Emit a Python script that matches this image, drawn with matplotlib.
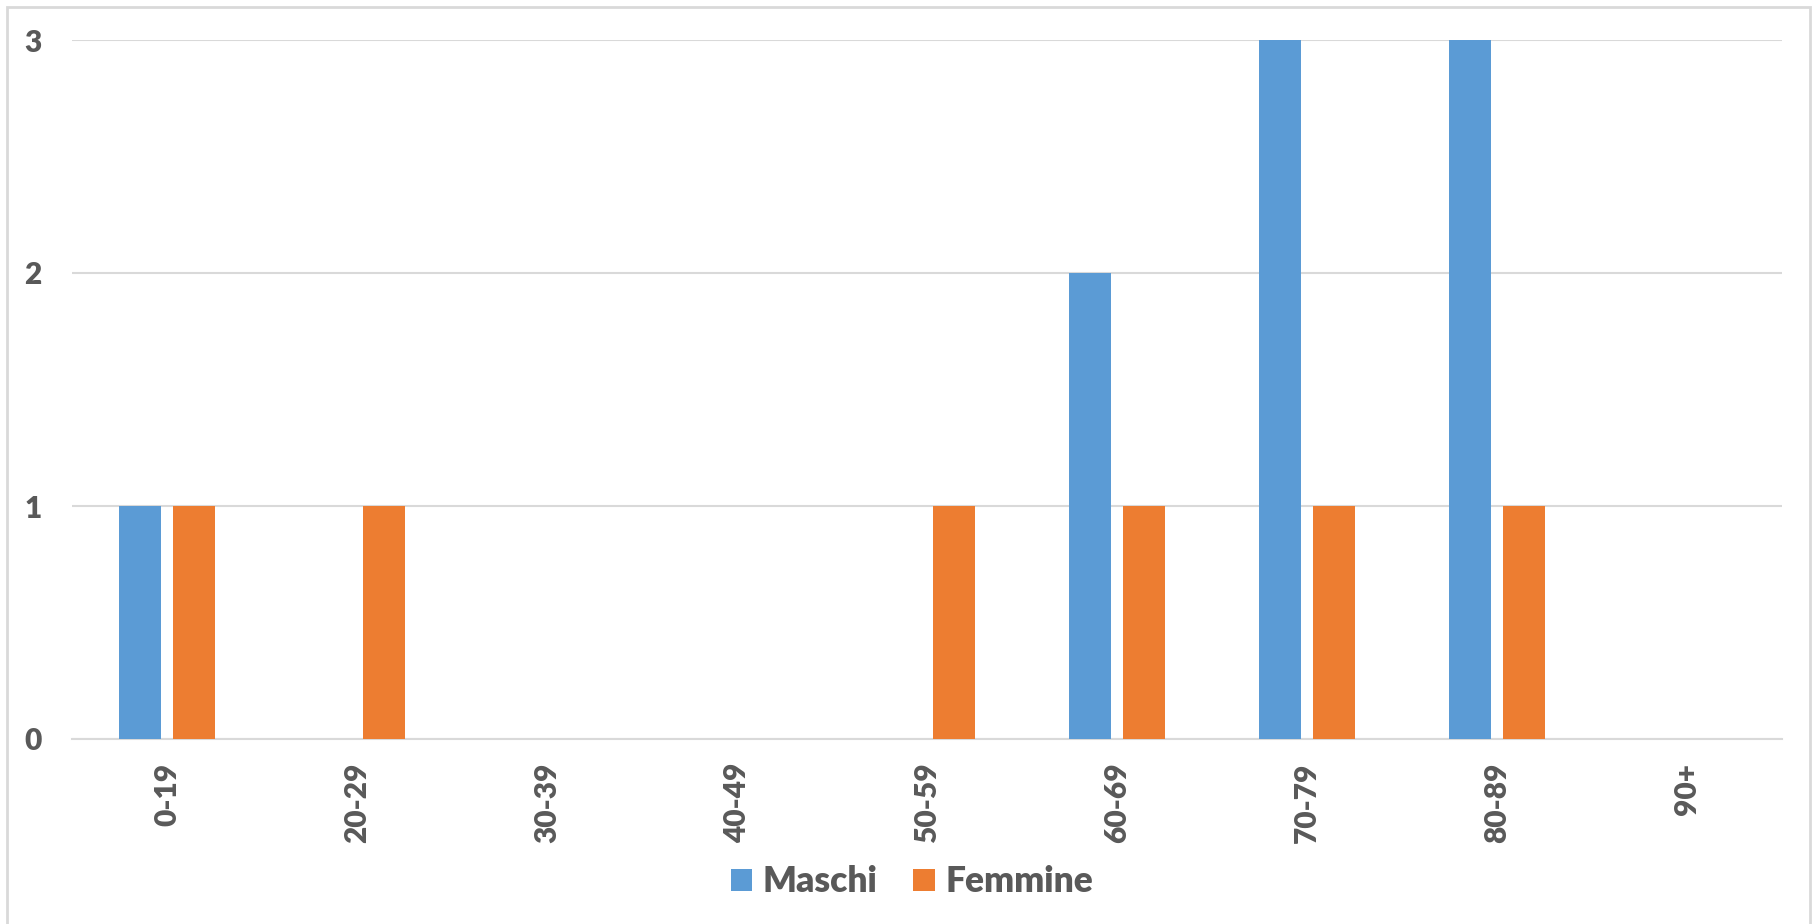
import matplotlib
matplotlib.use("Agg")
import matplotlib.pyplot as plt
from matplotlib.patches import Rectangle
import numpy as np

categories = ["0-19", "20-29", "30-39", "40-49", "50-59", "60-69", "70-79", "80-89", "90+"]
maschi = [1, 0, 0, 0, 0, 2, 3, 3, 0]
femmine = [1, 1, 0, 0, 1, 1, 1, 1, 0]
yticks = [0, 1, 2, 3]

W, H = 1813, 924
fig = plt.figure(figsize=(W / 100, H / 100), dpi=100)
plt.rcParams['font.family'] = ['Lato', 'DejaVu Sans']

# outer chart border (cut off at bottom)
fig.patches.append(Rectangle((7 / W, -0.05), (1810 - 7) / W, (H - 7) / H + 0.05,
                             transform=fig.transFigure, fill=False,
                             edgecolor='#D9D9D9', linewidth=2))

left, right = 72 / W, 1782 / W
top, bottom = 1 - 40 / H, 1 - 739 / H
ax = fig.add_axes([left, bottom, right - left, top - bottom])

x = np.arange(len(categories))
bw = 0.22
off = 0.142
blue = '#5B9BD5'
orange = '#ED7D31'
ax.bar(x - off, maschi, bw, color=blue, label='Maschi', zorder=3)
ax.bar(x + off, femmine, bw, color=orange, label='Femmine', zorder=3)

ax.set_xlim(-0.5, len(categories) - 0.5)
ax.set_ylim(0, 3)
ax.set_yticks(yticks)
ax.set_yticklabels([str(v) for v in yticks])
ax.set_xticks(x)
ax.set_xticklabels(categories, rotation=90)

for s in ['top', 'right', 'left']:
    ax.spines[s].set_visible(False)
ax.spines['bottom'].set_color('#D9D9D9')
ax.spines['bottom'].set_linewidth(1.5)
ax.yaxis.grid(True, color='#D9D9D9', linewidth=1.5, zorder=0)
ax.set_axisbelow(True)
ax.tick_params(axis='both', length=0, labelcolor='#595959', labelsize=21.5)
ax.tick_params(axis='y', pad=22)
ax.tick_params(axis='x', pad=17)
for lab in ax.get_xticklabels() + ax.get_yticklabels():
    lab.set_fontweight('heavy')

leg = fig.legend(loc='center', bbox_to_anchor=(912 / W, 1 - 882 / H), ncol=2,
                 frameon=False, handlelength=0.6, handleheight=0.6,
                 handletextpad=0.3, columnspacing=1.0,
                 prop={'family': ['Lato', 'DejaVu Sans'], 'weight': 'heavy', 'size': 25.5})
for t in leg.get_texts():
    t.set_color('#595959')

fig.savefig('out.png', dpi=100, facecolor='white')
